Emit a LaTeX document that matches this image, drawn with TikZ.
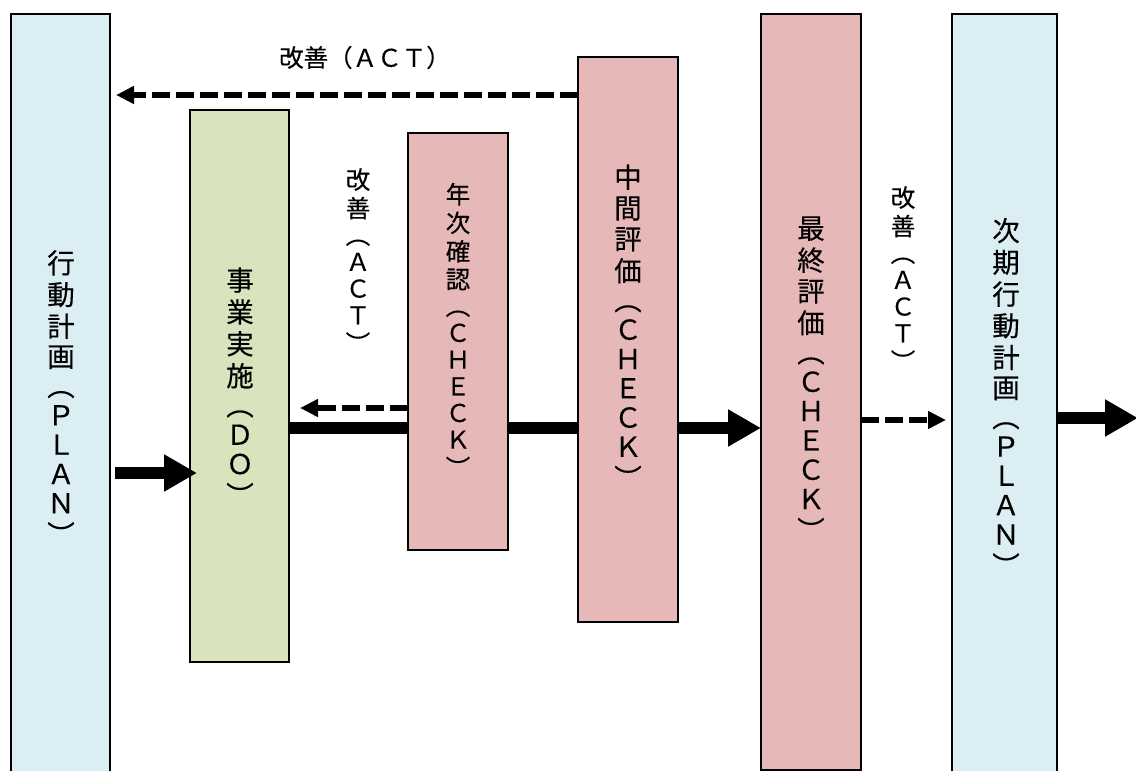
\documentclass[tikz,border=0pt]{standalone}
\usepackage{fontspec}
\newfontfamily\cjk{Noto Sans CJK JP}[FakeBold=0.3]
\usetikzlibrary{arrows.meta}
\pgfdeclarelayer{bg}
\pgfsetlayers{bg,main}
\definecolor{planblue}{HTML}{DBEEF4}
\definecolor{dogreen}{HTML}{D7E4BD}
\definecolor{chkpink}{HTML}{E6B9B8}
\makeatletter
\newcommand\Vstack[2]{\vbox{\offinterlineskip\@tfor\vs@c:=#2\do{\hbox to #1{\hss\vs@c\strut\hss}}}}
\makeatother
\tikzset{
  box/.style={draw=black, line width=1.3pt, inner sep=0pt, outer sep=0pt, anchor=north west},
  bigtxt/.style={font=\cjk\fontsize{27.5}{29.3}\selectfont, inner sep=0pt},
  smltxt/.style={font=\cjk\fontsize{24.5}{26.7}\selectfont, inner sep=0pt},
  thickarrow/.style={line width=12pt, -{Triangle[length=33pt,width=35pt]}},
  dasharrow/.style={line width=6pt, dash pattern=on 18pt off 6pt, -{Triangle[length=18pt,width=17pt]}},
}
\begin{document}
\begin{tikzpicture}[x=1pt,y=-1pt]
\useasboundingbox (0,0) rectangle (1136,771);
\clip (0,0) rectangle (1136,771);
% boxes
\node[box, fill=planblue, minimum width=99pt, minimum height=790pt] (plan) at (11,14) {};
\node[box, fill=dogreen, minimum width=99pt, minimum height=552pt] (do) at (190,110) {};
\node[box, fill=chkpink, minimum width=100pt, minimum height=417pt] (annual) at (408,133) {};
\node[box, fill=chkpink, minimum width=100pt, minimum height=565pt] (mid) at (578,57) {};
\node[box, fill=chkpink, minimum width=100pt, minimum height=756pt] (final) at (761,14) {};
\node[box, fill=planblue, minimum width=105pt, minimum height=790pt] (next) at (952,14) {};
% texts
\node[bigtxt] (tplan) at (61,402) {\Vstack{30pt}{行動計画︵ＰＬＡＮ︶}};
\node[bigtxt] (tdo) at (240,391) {\Vstack{30pt}{事業実施︵ＤＯ︶}};
\node[smltxt] (tann) at (458,334) {\Vstack{30pt}{年次確認︵ＣＨＥＣＫ︶}};
\node[bigtxt] (tmid) at (628,331) {\Vstack{30pt}{中間評価︵ＣＨＥＣＫ︶}};
\node[bigtxt] (tfin) at (811,383) {\Vstack{30pt}{最終評価︵ＣＨＥＣＫ︶}};
\node[bigtxt] (tnext) at (1006,401.5) {\Vstack{30pt}{次期行動計画︵ＰＬＡＮ︶}};
\node[smltxt] (tact1) at (358,264.5) {\Vstack{30pt}{改善︵ＡＣＴ︶}};
\node[smltxt] (tact2) at (903,282.5) {\Vstack{30pt}{改善︵ＡＣＴ︶}};
\node[font=\cjk\fontsize{24.5}{28}\selectfont, inner sep=0pt, anchor=west] (tact0) at (279,57.5) {改善（ＡＣＴ）};
% connectors
\begin{pgfonlayer}{bg}
\draw[thickarrow] (do.east |- 0,428) -- (final.west |- 0,428);
\end{pgfonlayer}
\draw[thickarrow] ([xshift=5pt]plan.east |- 0,473) -- ([xshift=7pt]do.west |- 0,473);
\draw[dasharrow] (mid.west |- 0,95) -- ([xshift=6pt]plan.east |- 0,95);
\draw[dasharrow] (annual.west |- 0,408) -- ([xshift=11pt]do.east |- 0,408);
\draw[dasharrow] (final.east |- 0,420) -- ([xshift=-6pt]next.west |- 0,420);
\coordinate (out) at (1138,418);
\draw[thickarrow] (next.east |- 0,418) -- (out);
\end{tikzpicture}
\end{document}
